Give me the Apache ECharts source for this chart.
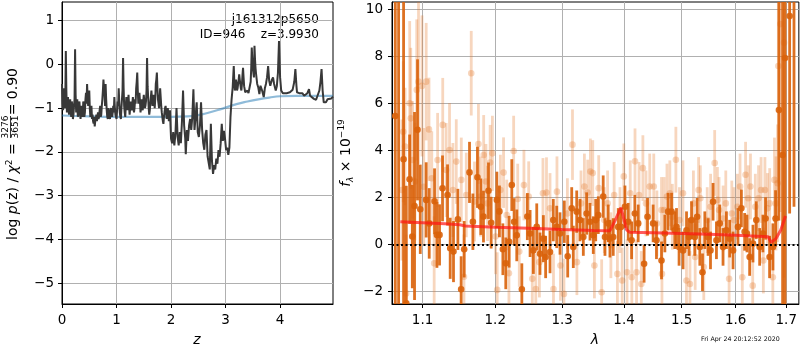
<!DOCTYPE html>
<html><head><meta charset="utf-8">
<script src="https://cdn.jsdelivr.net/npm/echarts@6.0.0/dist/echarts.min.js"></script>
<style>html,body{margin:0;padding:0;background:#fff}#c{width:800px;height:350px}</style>
</head><body><div id="c"></div>
<script>
// ---------- tick labels ----------
const zTicks = [0, 1, 2, 3, 4];
const logpTicks = [-5, -4, -3, -2, -1, 0, 1];
const lamTicks = [1.1, 1.2, 1.3, 1.4, 1.5, 1.6, 1.7];
const fluxTicks = [-2, 0, 2, 4, 6, 8, 10];

// ---------- left panel: log p(z) ----------
const pzCurve = [
[0.00,-0.45],[0.01,-0.90],[0.02,-1.05],[0.03,-0.70],[0.04,-0.55],[0.05,-1.00],[0.06,-0.85],[0.07,0.30],[0.08,-0.60],[0.09,-1.10],[0.10,-0.85],[0.11,-0.75],[0.12,-1.05],[0.13,-1.15],[0.14,-0.90],[0.15,-0.80],[0.16,-1.10],[0.17,-1.20],
[0.18,-0.85],[0.19,-0.95],[0.20,-1.25],[0.21,-1.15],[0.22,-0.95],[0.23,-0.80],[0.24,0.34],[0.25,-0.70],[0.26,-1.10],[0.27,-0.90],[0.28,-0.80],[0.29,-1.20],[0.30,-1.15],[0.31,-0.95],[0.32,-0.85],[0.33,-1.10],[0.34,-1.25],[0.35,-1.05],[0.36,-0.95],
[0.37,-1.15],[0.38,-1.20],[0.39,-0.85],[0.40,-0.90],[0.41,-1.20],[0.42,-1.10],[0.43,-0.80],[0.44,-0.65],[0.45,-0.90],[0.46,-0.45],[0.47,-0.75],[0.48,-0.95],[0.49,-0.70],[0.50,-0.60],[0.51,-1.00],[0.52,-1.20],[0.53,-1.05],[0.54,-0.95],[0.55,-1.25],[0.56,-1.15],
[0.57,-1.30],[0.58,-1.35],[0.59,-1.20],[0.60,-1.42],[0.61,-1.30],[0.62,-1.25],[0.63,-1.15],[0.64,-1.30],[0.65,-1.20],[0.66,-1.10],[0.67,-1.25],[0.68,-1.20],[0.69,-1.05],[0.70,-0.95],[0.71,-1.20],[0.72,-1.15],[0.73,-0.95],[0.74,-0.80],[0.75,-0.60],[0.76,-0.35],
[0.77,-0.55],[0.78,-0.70],[0.79,-0.95],[0.80,-0.45],[0.81,-0.80],[0.82,-1.05],[0.83,-1.20],[0.84,-1.25],[0.85,-1.00],[0.86,-1.10],[0.87,-1.20],[0.88,-1.25],[0.89,-1.05],[0.90,-1.00],[0.91,-1.15],[0.92,-1.20],[0.93,-1.10],[0.94,-0.95],[0.95,-1.10],[0.96,-0.75],
[0.97,-1.00],[0.98,-1.15],[0.99,-1.20],[1.00,-1.25],[1.01,-1.05],[1.02,-0.85],[1.03,-0.95],[1.04,-0.55],[1.05,-0.85],[1.06,-1.10],[1.07,-1.20],[1.08,-1.25],[1.09,-1.00],[1.10,-0.80],[1.11,-0.60],[1.12,0.14],[1.13,-0.55],[1.14,-0.95],[1.15,-1.10],[1.16,-1.20],
[1.17,-0.95],[1.18,-0.75],[1.19,-0.90],[1.20,-1.05],[1.21,-0.90],[1.22,-0.70],[1.23,-0.95],[1.24,-1.15],[1.25,-1.00],[1.26,-0.85],[1.27,-0.95],[1.28,-1.05],[1.29,-0.90],[1.30,-0.75],[1.31,-0.95],[1.32,-1.10],[1.33,-1.00],[1.34,-0.80],[1.35,-0.90],[1.36,-0.55],
[1.37,-0.40],[1.38,-0.19],[1.39,-0.60],[1.40,-0.90],[1.41,-0.75],[1.42,-0.65],[1.43,-0.85],[1.44,-1.10],[1.45,-0.95],[1.46,-0.80],[1.47,-0.95],[1.48,-1.05],[1.49,-0.85],[1.50,-0.70],[1.51,-0.85],[1.52,-1.00],[1.53,-0.95],[1.54,-0.85],[1.55,-0.60],[1.56,0.14],
[1.57,-0.50],[1.58,-0.75],[1.59,-1.00],[1.60,-1.15],[1.61,-1.05],[1.62,-0.90],[1.63,-0.75],[1.64,-0.60],[1.65,-0.80],[1.66,-0.95],[1.67,-0.85],[1.68,-0.70],[1.69,-0.85],[1.70,-1.00],[1.71,-0.80],[1.72,-0.45],[1.73,-0.35],[1.74,-0.19],[1.75,-0.55],[1.76,-0.80],
[1.77,-0.90],[1.78,-1.00],[1.79,-0.80],[1.80,-0.55],[1.81,-0.75],[1.82,-0.95],[1.83,-1.10],[1.84,-1.20],[1.85,-1.30],[1.86,-1.36],[1.87,-1.20],[1.88,-1.10],[1.89,-1.00],[1.90,-0.95],[1.91,-1.10],[1.92,-1.25],[1.93,-1.10],[1.94,-1.00],[1.95,-1.15],[1.96,-1.30],
[1.97,-1.20],[1.98,-1.05],[1.99,-1.40],[2.00,-1.70],[2.02,-1.80],[2.04,-1.55],[2.06,-1.85],[2.08,-1.60],[2.10,-1.00],[2.12,-1.65],[2.14,-1.85],[2.16,-1.55],
[2.18,-1.80],[2.20,-1.30],[2.22,-0.60],[2.24,-1.40],[2.26,-1.70],[2.27,-2.05],[2.29,-1.50],[2.31,-1.75],[2.33,-1.40],[2.35,-1.25],
[2.37,-1.50],[2.39,-1.20],[2.41,-0.57],[2.43,-1.50],[2.45,-1.20],[2.47,-0.87],[2.49,-1.55],[2.51,-1.66],[2.53,-1.40],[2.55,-0.87],
[2.57,-1.50],[2.59,-1.80],[2.61,-1.95],[2.63,-1.60],[2.65,-1.50],[2.67,-2.10],[2.69,-2.25],[2.71,-2.40],[2.73,-1.36],[2.75,-2.20],
[2.77,-2.50],[2.79,-2.30],[2.81,-2.40],[2.83,-2.15],[2.85,-2.27],[2.87,-1.96],[2.89,-2.11],[2.91,-1.80],[2.93,-1.36],[2.95,-1.75],
[2.97,-1.52],[2.99,-1.70],[3.01,-1.96],[3.03,-1.90],[3.05,-2.07],[3.07,-1.90],[3.09,-1.20],[3.11,-0.80],[3.13,-0.53],[3.15,-0.04],
[3.16,-0.40],[3.17,-0.60],[3.18,-0.50],[3.19,-0.35],[3.20,-0.45],[3.21,-0.60],[3.22,-0.55],[3.23,-0.45],[3.24,-0.35],[3.25,-0.23],[3.26,-0.35],[3.27,-0.45],[3.28,-0.55],[3.29,-0.60],[3.30,-0.45],[3.31,-0.25],[3.32,-0.08],[3.33,-0.30],[3.34,-0.50],[3.36,-0.64],
[3.38,-0.68],[3.40,-0.60],[3.42,-0.66],[3.44,-0.64],[3.46,-0.40],[3.47,-0.10],[3.48,0.38],[3.49,0.10],[3.50,-0.08],[3.51,-0.20],[3.52,-0.30],[3.53,0.42],[3.54,0.10],[3.55,-0.10],[3.56,-0.23],
[3.58,-0.45],[3.60,-0.53],[3.62,-0.68],[3.64,-0.49],[3.67,-0.60],[3.70,-0.75],[3.72,-0.55],[3.74,-0.45],[3.76,-0.30],[3.78,-0.04],
[3.80,-0.38],[3.82,-0.49],[3.85,-0.35],[3.87,-0.30],[3.89,-0.45],[3.92,-0.60],[3.94,-0.50],[3.96,-0.20],[3.98,0.53],[4.00,-0.30],
[4.02,-0.60],[4.05,-0.66],[4.08,-0.64],[4.12,-0.66],[4.15,-0.62],[4.18,-0.64],[4.21,-0.60],[4.23,-0.58],[4.26,-0.40],[4.28,-0.11],
[4.30,-0.50],[4.31,-0.64],[4.35,-0.66],[4.38,-0.68],[4.41,-0.66],[4.44,-0.72],[4.47,-0.70],[4.50,-0.66],[4.53,-0.57],[4.55,-0.72],
[4.58,-0.76],[4.62,-0.79],[4.66,-0.81],[4.69,-0.83],[4.72,-0.60],[4.74,-0.40],[4.76,-0.11],[4.78,-0.60],[4.80,-0.87],[4.84,-0.87],
[4.87,-0.80],[4.90,-0.76],[4.94,-0.78],[4.97,-0.74]
];
const pzSmooth = [
[0.0,-1.17],[0.5,-1.19],[1.0,-1.20],[1.5,-1.20],[2.0,-1.20],[2.3,-1.19],[2.5,-1.16],[2.7,-1.10],[2.9,-1.03],[3.0,-0.99],
[3.2,-0.91],[3.4,-0.85],[3.6,-0.80],[3.8,-0.76],[4.0,-0.73],[4.3,-0.72],[4.6,-0.72],[4.97,-0.72]
];

// ---------- right panel: spectrum [lambda, flux, err] ----------
const specDark = [
[1.0647,5.46,14],[1.0689,-4.0,15],[1.0753,3.62,14],[1.0788,-2.51,5.0],[1.0831,2.77,1.9],[1.0866,0.33,2.2],[1.0895,1.63,4.0],[1.0934,4.87,3.0],
[1.0970,1.49,1.9],[1.1048,1.89,1.6],[1.1088,0.89,1.5],[1.1159,1.83,1.4],[1.1191,0.40,1.4],[1.1226,0.40,1.3],[1.1266,2.38,1.4],[1.1334,2.10,1.3],
[1.1370,-0.17,1.3],[1.1415,-0.31,1.3],[1.1475,1.06,1.3],[1.1520,-1.91,1.4],[1.1562,-0.21,1.2],[1.1636,3.06,1.3],[1.1683,0.96,1.2],[1.1747,2.85,1.3],
[1.1795,1.60,1.2],[1.1832,1.18,1.1],[1.1903,2.28,1.2],[1.1941,0.92,1.1],[1.2023,1.89,1.2],[1.2060,1.40,1.1],[1.2110,-0.21,1.1],[1.2152,-0.81,1.1],
[1.2201,0.11,1.1],[1.2240,2.52,1.1],[1.2274,0.96,1.0],[1.2313,0.38,1.1],[1.2388,-1.91,1.1],[1.2470,1.18,1.0],
[1.2511,0.46,1.0],[1.2560,-0.26,1.0],[1.2611,0.74,1.0],[1.2660,-0.40,0.9],[1.2711,0.24,1.0],[1.2746,-0.54,0.9],[1.2813,-0.33,0.9],[1.2863,1.03,0.9],
[1.2916,0.74,0.9],[1.2967,0.46,0.9],[1.3034,0.96,0.9],[1.3087,-0.51,0.9],[1.3150,1.53,0.9],[1.3175,-0.11,0.9],[1.3229,1.39,0.9],[1.3281,1.03,0.9],
[1.3334,0.31,0.8],[1.3387,1.31,0.9],[1.3441,0.96,0.8],[1.3494,0.39,0.8],[1.3533,1.03,0.9],[1.3575,1.24,0.8],[1.3655,2.03,0.9],[1.3684,0.31,0.8],
[1.3737,0.89,0.8],[1.3766,0.24,0.8],[1.3820,0.31,0.8],[1.3903,0.74,0.8],[1.3948,0.74,0.8],[1.4015,1.60,0.9],[1.4070,0.96,0.8],[1.4127,0.17,0.8],
[1.4182,1.31,0.8],[1.4239,0.89,0.8],[1.4340,-0.83,0.8],[1.4399,1.17,0.8],[1.4496,0.89,0.8],[1.4554,0.17,0.8],[1.4642,-0.69,0.8],
[1.4701,0.46,0.8],[1.4758,1.39,0.8],[1.4819,1.39,0.8],[1.4877,0.60,0.8],[1.4907,0.74,0.8],[1.4953,-0.11,0.8],[1.5025,-0.26,0.8],[1.5087,0.60,0.8],
[1.5134,0.31,0.8],[1.5178,1.03,0.8],[1.5237,0.31,0.8],[1.5280,1.17,0.8],[1.5329,-0.11,0.8],[1.5378,-1.19,0.8],[1.5421,0.60,0.8],[1.5481,0.31,0.8],
[1.5526,-0.26,0.8],[1.5574,1.81,0.8],[1.5637,0.17,0.8],[1.5699,0.89,0.8],[1.5761,-0.11,0.8],[1.5825,0.60,0.8],[1.5887,0.24,0.8],[1.5951,-0.26,0.8],
[1.6045,0.74,0.8],[1.6111,1.53,0.8],[1.6174,0.53,0.8],[1.6219,0.46,0.8],[1.6271,-0.54,0.8],[1.6336,0.03,0.8],[1.6401,1.03,0.8],[1.6467,-0.11,0.8],
[1.6531,0.46,0.8],[1.6584,1.10,0.9],[1.6664,-0.54,0.9],[1.6731,-0.11,1.0],[1.6784,1.10,1.2],[1.6851,5.71,4.7],[1.6926,3.8,14],[1.6975,7.93,14],
[1.7069,9.71,8.4],[1.7158,11.0,9.4]
];
const specLight = [
[1.0731,2.31,3.0],[1.0749,4.79,3.0],[1.0772,4.16,2.5],[1.0786,-2.09,2.5],[1.0832,6.00,3.5],[1.0846,5.36,3.0],[1.0869,3.59,2.5],[1.0901,2.67,2.5],
[1.0924,6.57,3.0],[1.0947,6.92,3.5],[1.0993,6.74,3.0],[1.1016,2.45,2.5],[1.1048,6.92,2.5],[1.1085,4.89,2.2],[1.1122,2.81,2.0],[1.1154,-0.81,2.0],
[1.1200,3.59,2.0],[1.1269,5.08,2.0],[1.1315,3.16,2.0],[1.1361,4.01,2.0],[1.1407,2.31,2.0],[1.1453,3.52,1.8],[1.1522,2.74,1.8],[1.1559,-1.38,1.8],
[1.1591,2.10,1.8],[1.1660,7.28,1.8],[1.1706,1.82,1.7],[1.1761,4.27,1.7],[1.1789,2.03,1.7],[1.1835,3.80,1.7],[1.1867,2.67,1.6],[1.1890,1.74,1.6],
[1.1927,3.48,1.6],[1.1959,3.87,1.6],[1.2005,0.33,1.6],[1.2028,-1.94,1.6],[1.2074,2.31,1.5],[1.2120,3.05,1.5],[1.2166,1.25,1.5],[1.2198,-1.23,1.5],
[1.2267,3.97,1.5],[1.2327,1.93,1.5],[1.2350,-0.31,1.5],[1.2419,2.52,1.5],
[1.2490,2.03,1.5],[1.2544,-1.47,1.5],[1.2597,-1.90,1.5],[1.2651,-0.76,1.5],[1.2705,2.17,1.5],[1.2759,2.20,1.5],[1.2813,1.53,1.5],[1.2866,-1.90,1.5],
[1.2920,2.24,1.5],[1.2974,-0.90,1.5],[1.3028,-2.11,1.5],[1.3082,1.31,1.5],[1.3162,4.24,1.5],[1.3232,-0.76,1.4],[1.3297,1.74,1.4],[1.3351,2.46,1.4],
[1.3404,2.20,1.4],[1.3447,3.10,1.4],[1.3485,3.03,1.4],[1.3512,-0.90,1.4],[1.3582,2.39,1.4],[1.3630,-2.04,1.4],[1.3673,1.03,1.4],[1.3727,1.74,1.4],
[1.3781,-0.04,1.4],[1.3835,2.10,1.4],[1.3889,-1.26,1.4],[1.3932,1.03,1.4],[1.3969,-1.54,1.4],[1.3996,2.89,1.4],[1.4050,-1.19,1.4],[1.4104,2.17,1.4],
[1.4131,-1.40,1.4],[1.4185,3.53,1.4],[1.4211,-1.19,1.4],[1.4254,2.10,1.4],[1.4292,-1.69,1.4],[1.4319,3.24,1.4],[1.4373,1.74,1.4],[1.4437,2.46,1.4],
[1.4507,2.46,1.4],[1.4561,0.89,1.4],[1.4642,1.46,1.4],
[1.4650,-1.26,1.4],[1.4688,1.46,1.4],[1.4738,2.03,1.4],[1.4789,2.17,1.4],[1.4833,1.17,1.4],[1.4896,3.60,1.4],[1.4960,1.03,1.4],[1.5023,2.17,1.4],
[1.5086,-1.54,1.4],[1.5149,-1.69,1.4],[1.5212,1.74,1.4],[1.5244,-0.54,1.4],[1.5307,2.31,1.4],[1.5339,1.96,1.4],[1.5402,-0.97,1.4],[1.5465,1.03,1.4],
[1.5528,1.60,1.4],[1.5604,3.46,1.4],[1.5655,1.89,1.4],[1.5686,1.46,1.4],[1.5762,1.10,1.4],[1.5813,1.74,1.4],[1.5876,-1.47,1.4],[1.5927,1.31,1.4],
[1.5971,1.03,1.4],[1.6034,1.60,1.4],[1.6085,2.46,1.4],[1.6129,-1.40,1.4],[1.6192,2.96,1.4],[1.6243,1.96,1.4],[1.6287,2.46,1.4],[1.6331,-1.76,1.4],
[1.6382,1.60,1.4],[1.6445,1.96,1.4],[1.6495,2.31,1.4],[1.6540,-0.69,1.4],[1.6571,2.31,1.4],[1.6622,1.53,1.5],[1.6666,1.74,1.5],[1.6729,-1.40,1.6],
[1.6761,2.74,1.8],[1.6792,1.74,2.0],[1.6824,2.60,2.5],[1.6840,7.59,5.0],[1.6880,9.37,8.0],[1.6955,8.58,10.0]
];
const modelLine = [
[1.0711,0.96],[1.10,0.92],[1.13,0.87],[1.15,0.83],[1.158,0.78],[1.20,0.73],[1.25,0.68],[1.30,0.63],[1.35,0.59],[1.3766,0.58],
[1.3848,1.00],[1.3948,1.56],[1.4042,0.62],[1.4097,0.51],[1.45,0.49],[1.50,0.46],[1.55,0.43],[1.60,0.39],[1.6634,0.32],[1.6698,0.08],
[1.679,0.24],[1.6887,0.60],[1.6985,1.20]
];

// ---------- drawing ----------
const FONT = 'DejaVu Sans';
const minus = v => String(v).replace('-', '\u2212');

function errBars(color, lw, r) {
  return function (params, api) {
    const x = api.value(0), y = api.value(1), e = api.value(2);
    const c = api.coord([x, y]);
    const t = api.coord([x, y + e]);
    const b = api.coord([x, y - e]);
    return {
      type: 'group',
      children: [
        { type: 'line', shape: { x1: c[0], y1: t[1], x2: c[0], y2: b[1] }, style: { stroke: color, lineWidth: lw } },
        { type: 'circle', shape: { cx: c[0], cy: c[1], r: r }, style: { fill: color } }
      ]
    };
  };
}

function axisStyle(ticks, fmt, margin) {
  return {
    axisLine: { show: true, onZero: false, lineStyle: { color: '#000', width: 1 } },
    axisTick: { show: true, length: 4, inside: false, lineStyle: { color: '#000', width: 1 }, customValues: ticks },
    axisLabel: { color: '#000', fontSize: 13.5, fontFamily: FONT, customValues: ticks, formatter: fmt, margin: margin },
    splitLine: { show: true, lineStyle: { color: '#b0b0b0', width: 1 } }
  };
}

const chart = echarts.init(document.getElementById('c'), null, { renderer: 'canvas' });
const option = {
  animation: false,
  backgroundColor: '#fff',
  grid: [
    { left: 62, top: 2, width: 271, height: 302, show: true, borderColor: '#000', borderWidth: 1, backgroundColor: 'transparent' },
    { left: 392, top: 2, width: 407, height: 302, show: true, borderColor: '#000', borderWidth: 1, backgroundColor: 'transparent' }
  ],
  xAxis: [
    Object.assign({ type: 'value', gridIndex: 0, min: 0, max: 4.97 }, axisStyle(zTicks, v => minus(v), 9)),
    Object.assign({ type: 'log', gridIndex: 1, min: 1.0605, max: 1.7258, logBase: 10 }, axisStyle(lamTicks, v => Number(v).toFixed(1), 9))
  ],
  yAxis: [
    Object.assign({ type: 'value', gridIndex: 0, min: -5.47, max: 1.42 }, axisStyle(logpTicks, v => minus(v), 8)),
    Object.assign({ type: 'value', gridIndex: 1, min: -2.54, max: 10.31 }, axisStyle(fluxTicks, v => minus(v), 9))
  ],
  series: [
    { type: 'line', xAxisIndex: 0, yAxisIndex: 0, data: pzSmooth, smooth: true, showSymbol: false, clip: true,
      lineStyle: { color: 'rgba(31,119,180,0.5)', width: 2.2 }, z: 2 },
    { type: 'line', xAxisIndex: 0, yAxisIndex: 0, data: pzCurve, showSymbol: false, clip: true,
      lineStyle: { color: '#383838', width: 2 }, z: 3 },
    { type: 'custom', xAxisIndex: 1, yAxisIndex: 1, data: specLight, clip: true, encode: { x: 0, y: 1 },
      renderItem: errBars('rgba(230,120,40,0.3)', 2.8, 3.3), z: 2 },
    { type: 'custom', xAxisIndex: 1, yAxisIndex: 1, data: specDark, clip: true, encode: { x: 0, y: 1 },
      renderItem: errBars('rgba(217,98,10,0.9)', 2.8, 3.3), z: 3 },
    { type: 'line', xAxisIndex: 1, yAxisIndex: 1, data: modelLine, showSymbol: false, clip: true,
      lineStyle: { color: 'rgba(255,20,20,0.7)', width: 3 }, z: 4 },
    { type: 'line', xAxisIndex: 1, yAxisIndex: 1, data: [], z: 5,
      markLine: { symbol: 'none', silent: true, label: { show: false },
        lineStyle: { type: [2, 2.5], color: '#000', width: 2 }, data: [{ yAxis: 0 }] } }
  ],
  graphic: [
    { type: 'text', x: 319, y: 20, style: { text: 'j161312p5650', fontSize: 12, fontFamily: FONT, fill: '#000', align: 'right', verticalAlign: 'middle' } },
    { type: 'text', x: 319, y: 35, style: { text: 'ID=946    z=3.9930', fontSize: 12, fontFamily: FONT, fill: '#000', align: 'right', verticalAlign: 'middle' } },
    { type: 'text', x: 197, y: 340, style: { text: 'z', fontSize: 14, fontStyle: 'italic', fontFamily: FONT, fill: '#000', align: 'center', verticalAlign: 'middle' } },
    { type: 'text', x: 595, y: 340, style: { text: 'λ', fontSize: 14, fontStyle: 'italic', fontFamily: FONT, fill: '#000', align: 'center', verticalAlign: 'middle' } },
    { type: 'text', x: 701, y: 339, style: { text: 'Fri Apr 24 20:12:52 2020', fontSize: 6.3, fontFamily: FONT, fill: '#000', align: 'left', verticalAlign: 'middle' } },
    { type: 'group', x: 13, y: 154, rotation: Math.PI / 2, children: [
      { type: 'text', x: -86, y: 0, style: { text: 'log {i|p}(z) / {i|χ}{s|2} =', fontSize: 14, fontFamily: FONT, fill: '#000', align: 'left', verticalAlign: 'middle',
        rich: { i: { fontStyle: 'italic', fontSize: 14, fontFamily: FONT }, s: { fontSize: 9, fontFamily: FONT, verticalAlign: 'top', lineHeight: 16 } } } },
      { type: 'text', x: 27, y: -7, style: { text: '3276', fontSize: 9, fontFamily: FONT, fill: '#000', align: 'center', verticalAlign: 'middle' } },
      { type: 'line', shape: { x1: 16, y1: -2.5, x2: 38, y2: -2.5 }, style: { stroke: '#000', lineWidth: 0.8 } },
      { type: 'text', x: 27, y: 2.5, style: { text: '3651', fontSize: 9, fontFamily: FONT, fill: '#000', align: 'center', verticalAlign: 'middle' } },
      { type: 'text', x: 86, y: 0, style: { text: '= 0.90', fontSize: 14, fontFamily: FONT, fill: '#000', align: 'right', verticalAlign: 'middle' } }
    ] },
    { type: 'group', x: 346, y: 153, rotation: Math.PI / 2, children: [
      { type: 'text', x: 0, y: 0, style: { text: '{i|f}{sub|λ} × 10{sup|−19}', fontSize: 14, fontFamily: FONT, fill: '#000', align: 'center', verticalAlign: 'middle',
        rich: { i: { fontStyle: 'italic', fontSize: 14, fontFamily: FONT }, sub: { fontSize: 9, fontStyle: 'italic', fontFamily: FONT, verticalAlign: 'bottom', lineHeight: 18 },
                sup: { fontSize: 9, fontFamily: FONT, verticalAlign: 'top', lineHeight: 18 } } } }
    ] }
  ]
};
chart.setOption(option);
</script>
</body></html>
